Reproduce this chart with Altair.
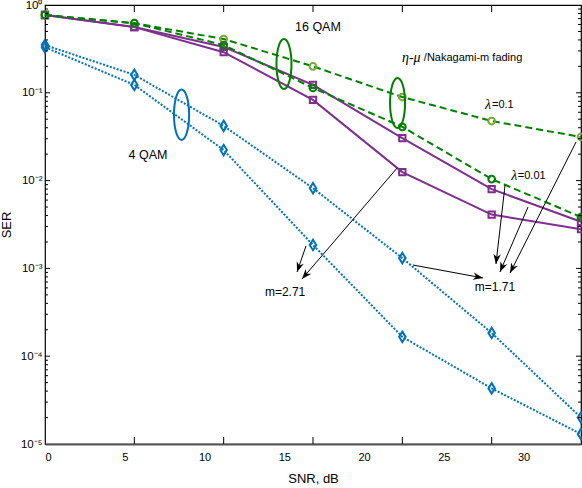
import math
import altair as alt
import pandas as pd

# ---------------- data ----------------
snr = [0, 5.6, 11.2, 16.8, 22.4, 28.0, 33.6]
ser_eta_l01 = [0.77, 0.62, 0.41, 0.20, 0.0895, 0.0477, 0.0314]      # eta-mu, lambda=0.1
ser_eta_l001 = [0.77, 0.62, 0.35, 0.1135, 0.041, 0.0104, 0.00385]   # eta-mu, lambda=0.01
ser_nak_a = [0.77, 0.56, 0.333, 0.123, 0.0305, 0.008, 0.0034]        # Nakagami-m (16 QAM)
ser_nak_b = [0.77, 0.56, 0.29, 0.083, 0.0125, 0.0041, 0.0028]        # Nakagami-m (16 QAM)
ser_qam4_a = [0.35, 0.16, 0.042, 0.0082, 0.00131, 1.84e-4, 2.0e-5]  # 4 QAM
ser_qam4_b = [0.33, 0.123, 0.0223, 0.00185, 1.66e-4, 4.3e-5, 1.3e-5]

x_label_vals = [0, 5, 10, 15, 20, 25, 30]
y_major = [1e-5, 1e-4, 1e-3, 1e-2, 1e-1, 1]
y_minor = [m * 10.0 ** e for e in range(-5, 0) for m in range(2, 10)]

# annotations (data coordinates)
green_ell_x = [14.98, 22.1]
green_ell_y = [0.213, 0.0765]
blue_ell_x = [8.56]
blue_ell_y = [0.0563]

arrow_x0 = [22.07, 16.36, 28.84, 30.28, 33.29, 23.07]
arrow_y0 = [0.01391, 1.80e-3, 8.91e-3, 5.00e-3, 0.02752, 1.093e-3]
arrow_x1 = [16.11, 15.80, 28.27, 28.52, 29.15, 27.46]
arrow_y1 = [7.57e-4, 9.10e-4, 1.122e-3, 9.10e-4, 8.86e-4, 7.78e-4]

big_text = ["16 QAM", "4 QAM"]
big_x = [17.11, 6.46]
big_y = [0.5615, 0.0196]

sans_text = ["m=2.71", "m=1.71"]
sans_x = [15.05, 28.21]
sans_y = [5.38e-4, 6.14e-4]

left_text = ["/Nakagami-m fading", "=0.1", "=0.01"]
left_x = [23.75, 28.02, 29.64]
left_y = [0.249, 0.0726, 0.01128]

greek_text = ["\u03b7-\u03bc", "\u03bb", "\u03bb"]
greek_x = [22.38, 27.58, 29.22]
greek_y = [0.249, 0.0726, 0.01128]

# ---------------- layout ----------------
W, H = 536, 439
XMAX = 33.6
FONT = "Liberation Sans, Arial"
SERIF = "Liberation Serif, Times New Roman"

xs = alt.Scale(domain=[0, XMAX], nice=False, zero=False)
ys = alt.Scale(type="log", domain=[1e-5, 1], nice=False)

sup = "['', '\u00b9', '\u00b2', '\u00b3', '\u2074', '\u2075']"
lab_expr = ("'10' + (round(log(datum.value)/LN10) == 0 ? '\u2070' : '\u207b' + "
            + sup + "[-round(log(datum.value)/LN10)])")

AX = alt.Axis(values=x_label_vals, ticks=False, grid=False, title="SNR, dB",
              domainColor="#555555", domainWidth=2, labelPadding=7, titlePadding=10,
              labelFontSize=11, titleFontSize=13)
AY = alt.Axis(values=y_major, ticks=False, grid=False, title="SER", domain=False,
              labelExpr=lab_expr, labelPadding=3, titlePadding=7,
              labelFontSize=11.5, titleFontSize=13)


def X(f, **kw):
    return alt.X(f, type="quantitative", scale=xs, axis=AX, **kw)


def Y(f, **kw):
    return alt.Y(f, type="quantitative", scale=ys, axis=AY, **kw)


GREEN = "#008000"
LGREEN = "#77AC30"
PURPLE = "#7E2F8E"
BLUE = "#0072BD"
DIAMOND = "M0,-1L0.62,0L0,1L-0.62,0Z"


def series(ys_vals, color, mcolor, shape, msize, dash=None):
    df = pd.DataFrame({"snr": snr, "ser": ys_vals})
    lk = dict(color=color, strokeWidth=2)
    if dash is not None:
        lk["strokeDash"] = dash
    line = alt.Chart(df).mark_line(**lk).encode(x=X("snr"), y=Y("ser"))
    pts = alt.Chart(df).mark_point(shape=shape, color=mcolor, size=msize,
                                   strokeWidth=2, filled=False, opacity=1).encode(
        x=X("snr"), y=Y("ser"))
    return [line, pts]


layers = []
layers += series(ser_qam4_a, BLUE, BLUE, DIAMOND, 110, [2, 1.6])
layers += series(ser_qam4_b, BLUE, BLUE, DIAMOND, 110, [2, 1.6])
layers += series(ser_nak_a, PURPLE, PURPLE, "square", 40)
layers += series(ser_nak_b, PURPLE, PURPLE, "square", 40)
layers += series(ser_eta_l01, GREEN, LGREEN, "circle", 45, [7, 4])
layers += series(ser_eta_l001, GREEN, GREEN, "circle", 45, [7, 4])

# ellipses
ELLIPSE = "M0,-1 A0.3,1 0 1,1 0,1 A0.3,1 0 1,1 0,-1 Z"
ge = pd.DataFrame({"x": green_ell_x, "y": green_ell_y})
be = pd.DataFrame({"x": blue_ell_x, "y": blue_ell_y})
layers.append(alt.Chart(ge).mark_point(shape=ELLIPSE, size=2500, color=GREEN,
                                       strokeWidth=2, filled=False, opacity=1)
              .encode(x=X("x"), y=Y("y")))
layers.append(alt.Chart(be).mark_point(shape=ELLIPSE, size=2550, color=BLUE,
                                       strokeWidth=2, filled=False, opacity=1)
              .encode(x=X("x"), y=Y("y")))


# arrows
def to_px(x, y):
    return x / XMAX * W, -math.log10(y) / 5 * H


angles = []
for a, b, c, d in zip(arrow_x0, arrow_y0, arrow_x1, arrow_y1):
    p0 = to_px(a, b)
    p1 = to_px(c, d)
    dx, dy = p1[0] - p0[0], p1[1] - p0[1]
    angles.append(math.degrees(math.atan2(dx, -dy)) % 360)

adf = pd.DataFrame({"x0": arrow_x0, "y0": arrow_y0, "x1": arrow_x1,
                    "y1": arrow_y1, "ang": angles})
layers.append(alt.Chart(adf).mark_rule(color="black", strokeWidth=1).encode(
    x=X("x0"), y=Y("y0"), x2="x1", y2="y1"))
HEAD = "M0,0 L-0.75,2 L0,1.4 L0.75,2 Z"
layers.append(alt.Chart(adf).mark_point(shape=HEAD, size=100, color="black",
                                        filled=True, opacity=1, strokeWidth=0.5)
              .encode(x=X("x1"), y=Y("y1"), angle=alt.Angle("ang:Q", scale=None)))

# texts
bdf = pd.DataFrame({"t": big_text, "x": big_x, "y": big_y})
layers.append(alt.Chart(bdf).mark_text(font=FONT, fontSize=12.5, color="black",
                                       align="center", baseline="middle")
              .encode(x=X("x"), y=Y("y"), text="t:N"))
sdf = pd.DataFrame({"t": sans_text, "x": sans_x, "y": sans_y})
layers.append(alt.Chart(sdf).mark_text(font=FONT, fontSize=12, color="black",
                                       align="center", baseline="middle")
              .encode(x=X("x"), y=Y("y"), text="t:N"))
ldf = pd.DataFrame({"t": left_text, "x": left_x, "y": left_y})
layers.append(alt.Chart(ldf).mark_text(font=FONT, fontSize=11, color="black",
                                       align="left", baseline="middle")
              .encode(x=X("x"), y=Y("y"), text="t:N"))
gdf = pd.DataFrame({"t": greek_text, "x": greek_x, "y": greek_y})
layers.append(alt.Chart(gdf).mark_text(font=SERIF, fontSize=14, fontStyle="italic",
                                       color="black", align="left", baseline="middle")
              .encode(x=X("x"), y=Y("y"), text="t:N"))

# inward tick marks
xt = pd.DataFrame({"x": snr[1:-1]})
layers.append(alt.Chart(xt).mark_rule(color="black", strokeWidth=1).encode(
    x=X("x"), y=alt.value(H), y2=alt.value(H - 7)))
layers.append(alt.Chart(xt).mark_rule(color="black", strokeWidth=1).encode(
    x=X("x"), y=alt.value(0), y2=alt.value(7)))
ymaj = pd.DataFrame({"y": y_major[1:-1]})
ymin = pd.DataFrame({"y": y_minor})
for df, ln in ((ymaj, 5), (ymin, 3)):
    layers.append(alt.Chart(df).mark_rule(color="black", strokeWidth=1).encode(
        y=Y("y"), x=alt.value(0), x2=alt.value(ln)))
    layers.append(alt.Chart(df).mark_rule(color="black", strokeWidth=1).encode(
        y=Y("y"), x=alt.value(W), x2=alt.value(W - ln)))

chart = alt.layer(*layers).properties(
    width=W, height=H,
    autosize=alt.AutoSizeParams(type="none"),
    padding={"left": 45, "top": 5, "right": 1, "bottom": 44},
    background="white",
).configure_view(stroke="black", strokeWidth=1.2).configure_axis(
    labelFont=FONT, titleFont=FONT, labelColor="black", titleColor="black",
    titleFontWeight="normal",
)

chart.save("out.html", embed_options={"renderer": "svg", "actions": False})
